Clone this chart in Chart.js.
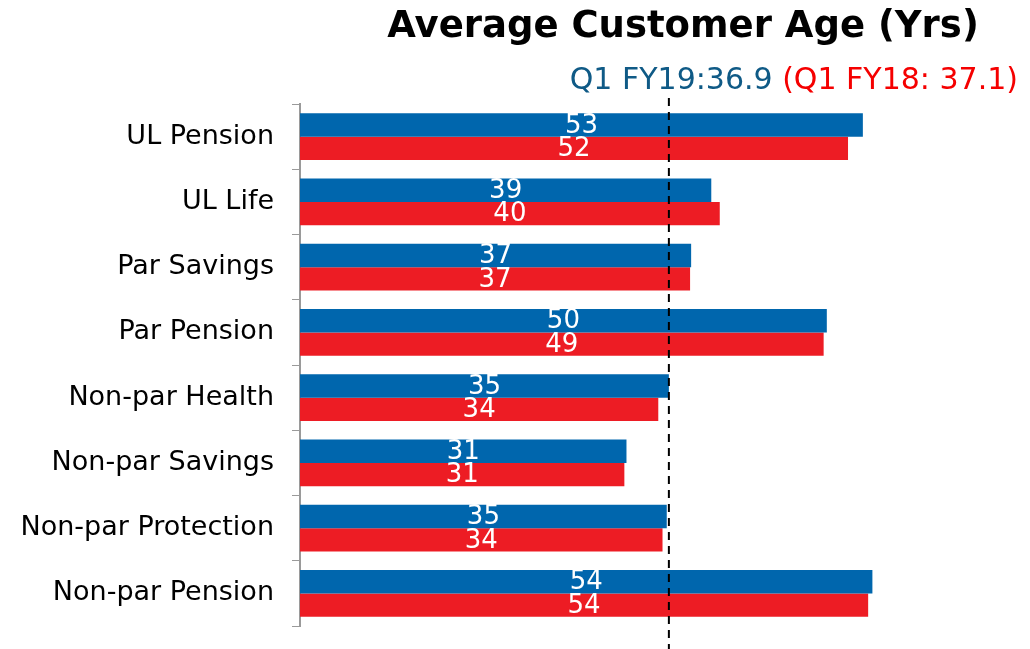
<!DOCTYPE html>
<html>
<head>
<meta charset="utf-8">
<script src="https://cdn.jsdelivr.net/npm/chart.js@4.4.1/dist/chart.umd.min.js"></script>
<style>
  html, body { margin: 0; padding: 0; background: #fff; }
  #wrap { width: 1030px; height: 649px; }
</style>
</head>
<body>
<div id="wrap"><canvas id="chart"></canvas></div>
<script>
const categories = ['UL Pension', 'UL Life', 'Par Savings', 'Par Pension',
    'Non-par Health', 'Non-par Savings', 'Non-par Protection', 'Non-par Pension'];
const fy19 = [53.1, 38.8, 36.9, 49.7, 34.8, 30.8, 34.6, 54.0];
const fy18 = [51.7, 39.6, 36.8, 49.4, 33.8, 30.6, 34.2, 53.6];
const avgLine = 34.8; // dashed marker position
const titleText = 'Average Customer Age (Yrs)';
const subBlue = 'Q1 FY19:36.9 ';
const subRed = '(Q1 FY18: 37.1)';

const FONT = '"DejaVu Sans", Verdana, sans-serif';

const overlay = {
    id: 'overlay',
    afterDatasetsDraw(chart) {
        const ctx = chart.ctx;
        const x = chart.scales.x.getPixelForValue(avgLine);
        ctx.save();
        // white value labels
        ctx.fillStyle = '#fff';
        ctx.font = '26px ' + FONT;
        ctx.textAlign = 'center';
        ctx.textBaseline = 'middle';
        chart.data.datasets.forEach((ds, i) => {
            chart.getDatasetMeta(i).data.forEach((bar, j) => {
                const left = chart.scales.x.getPixelForValue(0);
                ctx.fillText(Math.round(ds.data[j]), (left + bar.x) / 2, bar.y + 1);
            });
        });
        // dashed reference line
        ctx.strokeStyle = '#000';
        ctx.lineWidth = 2;
        ctx.setLineDash([8, 6]);
        ctx.beginPath();
        ctx.moveTo(x, 98);
        ctx.lineTo(x, chart.height);
        ctx.stroke();
        ctx.setLineDash([]);
        // title
        ctx.fillStyle = '#000';
        ctx.font = 'bold 37px ' + FONT;
        ctx.textAlign = 'center';
        ctx.textBaseline = 'middle';
        ctx.fillText(titleText, 683, 27);
        // subtitle in two colours
        ctx.font = '30px ' + FONT;
        ctx.textAlign = 'left';
        const wRed = ctx.measureText(subRed).width;
        const wBlue = ctx.measureText(subBlue).width;
        const right = 1018;
        ctx.fillStyle = '#0F5A86';
        ctx.fillText(subBlue, right - wRed - wBlue, 81);
        ctx.fillStyle = '#F50000';
        ctx.fillText(subRed, right - wRed, 81);
        ctx.restore();
    }
};

new Chart(document.getElementById('chart'), {
    type: 'bar',
    data: {
        labels: categories,
        datasets: [
            { label: 'Q1 FY19', data: fy19, backgroundColor: '#0066AD' },
            { label: 'Q1 FY18', data: fy18, backgroundColor: '#ED1C24' }
        ]
    },
    options: {
        indexAxis: 'y',
        responsive: true,
        maintainAspectRatio: false,
        animation: false,
        layout: { autoPadding: false, padding: { top: 104, bottom: 23, right: 94, left: 0 } },
        datasets: { bar: { categoryPercentage: 0.72, barPercentage: 1.0 } },
        scales: {
            x: { display: false, min: 0, max: 60 },
            y: {
                afterFit(axis) {
                    axis.width = 300;
                    axis.paddingTop = 0;
                    axis.paddingBottom = 0;
                },
                grid: { drawOnChartArea: false, tickLength: 8, color: '#9a9a9a', offset: true },
                border: { color: '#9a9a9a', width: 2 },
                ticks: { color: '#000', font: { family: FONT, size: 27 }, padding: 18 }
            }
        },
        plugins: {
            legend: { display: false },
            tooltip: { enabled: false }
        }
    },
    plugins: [overlay]
});
</script>
</body>
</html>
